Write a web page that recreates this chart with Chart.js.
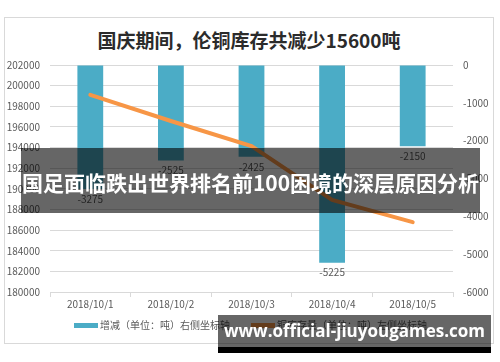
<!DOCTYPE html>
<html>
<head>
<meta charset="utf-8">
<script src="https://cdn.jsdelivr.net/npm/chart.js@4.4.1/dist/chart.umd.min.js"></script>
<style>
  html, body { margin: 0; padding: 0; background: #fff; }
  body { width: 500px; height: 362px; position: relative; overflow: hidden;
         font-family: "Noto Sans CJK SC", "Noto Sans", sans-serif; }
  .card { position: absolute; left: 4px; top: 17px; width: 488px; height: 325px;
          border: 1px solid #d9d9d9; }
  #wrap { position: absolute; left: 0; top: 0; width: 500px; height: 362px; }
  .title { position: absolute; left: 0; width: 498px; top: 27px; text-align: center;
           font-size: 19px; font-weight: bold; color: #2b2b2b; line-height: 26px; }
  .legend { position: absolute; top: 316px; font-size: 10px; color: #595959;
            line-height: 18px; white-space: nowrap; }
  .legend i { display: inline-block; width: 24px; height: 5px; vertical-align: middle;
              margin-right: 2px; position: relative; top: -1px; }
  .banner { position: absolute; left: 21px; top: 148px; width: 459px; height: 65px;
            background: rgba(0,0,0,0.6); color: #fff; font-weight: bold; font-size: 21px;
            line-height: 65px; text-align: center; white-space: nowrap; letter-spacing: 0; }
  .banner span { position: relative; top: 2px; }
  .mark { position: absolute; left: 218px; top: 315px; width: 273px; height: 32px;
          background: rgba(0,0,0,0.6); color: #fff; font-weight: bold; font-size: 17px;
          line-height: 32px; text-align: center; white-space: nowrap;
          font-family: "Open Sans", "Noto Sans", sans-serif; }
  .mark-bar { position: absolute; left: 218px; top: 347px; width: 273px; height: 6px; background: #000; }
</style>
</head>
<body>
<div class="card"></div>
<div class="title">国庆期间，伦铜库存共减少15600吨</div>
<div id="wrap"><canvas id="chart" width="500" height="362"></canvas></div>
<div class="legend" style="left:74px"><i style="background:#4bacc6"></i>增减（单位：吨）右侧坐标轴</div>
<div class="legend" style="left:251px"><i style="background:#f79646"></i>铜库存量（单位：吨）左侧坐标轴</div>
<div class="banner"><span>国足面临跌出世界排名前100困境的深层原因分析</span></div>
<div class="mark">www.official-jiuyougames.com</div>
<div class="mark-bar"></div>

<script>
// ─── DATA ─────────────────────────────────────────────────────────────────────
const DATES   = ["2018/10/1", "2018/10/2", "2018/10/3", "2018/10/4", "2018/10/5"];
const CHANGE  = [-3275, -2525, -2425, -5225, -2150];          // right axis
const STOCK   = [199100, 196575, 194150, 188925, 186775];     // left axis
const LEFT_TICKS  = { min: 180000, max: 202000, step: 2000 };
const RIGHT_TICKS = { min: -6000, max: 0, step: 1000 };

const GRID = "#d9d9d9";
const TXT  = "#595959";
const FONT = { family: "'Noto Sans CJK SC', 'Noto Sans', sans-serif", size: 10 };

// bar value labels, drawn just below the bar end
const barLabels = {
  id: "barLabels",
  afterDatasetsDraw(chart) {
    const ctx = chart.ctx;
    const meta = chart.getDatasetMeta(0);
    ctx.save();
    ctx.font = "10px " + FONT.family;
    ctx.fillStyle = TXT;
    ctx.textAlign = "center";
    ctx.textBaseline = "middle";
    meta.data.forEach((bar, i) => {
      ctx.fillText(String(CHANGE[i]), bar.x, bar.y + 10);
    });
    ctx.restore();
  }
};

new Chart(document.getElementById("chart"), {
  data: {
    labels: DATES,
    datasets: [
      {
        type: "bar",
        label: "增减（单位：吨）右侧坐标轴",
        data: CHANGE,
        yAxisID: "yR",
        backgroundColor: "#4bacc6",
        borderWidth: 0,
        barPercentage: 0.64,
        categoryPercentage: 0.5,
        order: 2,
      },
      {
        type: "line",
        label: "铜库存量（单位：吨）左侧坐标轴",
        data: STOCK,
        yAxisID: "yL",
        borderColor: "#f79646",
        backgroundColor: "#f79646",
        borderWidth: 4,
        borderCapStyle: "round",
        pointRadius: 0,
        tension: 0,
        order: 1,
      },
    ],
  },
  options: {
    responsive: false,
    animation: false,
    layout: { padding: { left: 4, right: 6, top: 65, bottom: 52 } },
    plugins: { legend: { display: false }, tooltip: { enabled: false }, title: { display: false } },
    scales: {
      x: {
        grid: { drawOnChartArea: false, drawTicks: true, tickLength: 5, color: GRID, offset: true },
        border: { color: GRID },
        ticks: { color: TXT, font: FONT, padding: 1, maxRotation: 0 },
        afterFit: s => { s.height = 18; },
      },
      yL: {
        position: "left",
        min: LEFT_TICKS.min, max: LEFT_TICKS.max,
        ticks: { stepSize: LEFT_TICKS.step, color: TXT, font: FONT, padding: 10,
                 callback: v => String(v) },
        grid: { color: GRID, drawTicks: false },
        border: { display: false },
        afterFit: s => { s.width = 46; },
      },
      yR: {
        position: "right",
        min: RIGHT_TICKS.min, max: RIGHT_TICKS.max,
        ticks: { stepSize: RIGHT_TICKS.step, color: TXT, font: FONT, padding: 10,
                 callback: v => String(v) },
        grid: { drawOnChartArea: false, drawTicks: false },
        border: { display: false },
        afterFit: s => { s.width = 41; },
      },
    },
  },
  plugins: [barLabels],
});
</script>
</body>
</html>
